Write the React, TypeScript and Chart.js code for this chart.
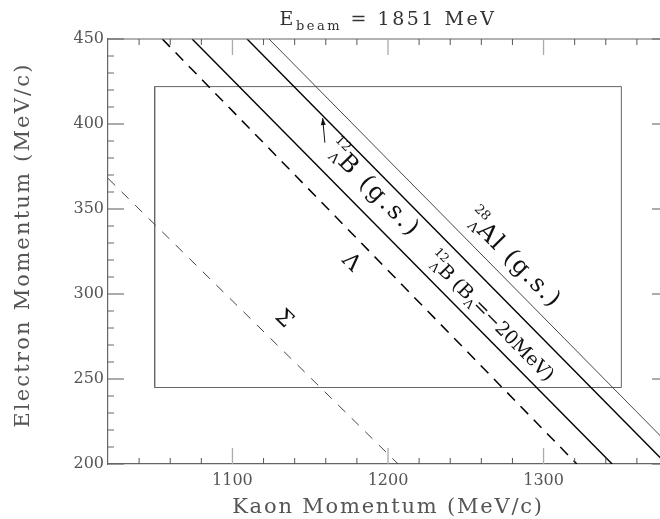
import { useEffect, useRef } from "react";
import { Chart, registerables } from "chart.js";
Chart.register(...registerables);

// ---- axis ranges & ticks ----
const xRange = [1020, 1380];
const yRange = [200, 450];
const xMajorTicks = [1100, 1200, 1300];
const xMinorTicks = [1040, 1060, 1080, 1120, 1140, 1160, 1180, 1220, 1240, 1260, 1280, 1320, 1340, 1360];
const yMajorTicks = [200, 250, 300, 350, 400, 450];
const yMinorTicks = [210, 220, 230, 240, 260, 270, 280, 290, 310, 320, 330, 340, 360, 370, 380, 390, 410, 420, 430, 440];

// ---- kinematic lines (Kaon momentum, Electron momentum) ----
const sigmaX = [1020, 1206.5];
const sigmaY = [368, 200];
const lambdaX = [1054.9, 1321.4];
const lambdaY = [450, 200];
const b12m20X = [1074.1, 1344.1];
const b12m20Y = [450, 200];
const b12gsX = [1109.4, 1379];
const b12gsY = [450, 200];
const al28gsX = [1123.5, 1380];
const al28gsY = [450, 212];

// ---- acceptance box ----
const boxX = [1050, 1350, 1350, 1050, 1050];
const boxY = [245, 245, 422, 422, 245];

// ---- arrow (tail -> head) ----
const arrowX = [1159.4, 1158];
const arrowY = [389, 403.5];

const FONT = "DejaVu Serif";

const pts = (xs: number[], ys: number[]) => xs.map((x, i) => ({ x, y: ys[i] }));

type Part = { t: string; s: number; dy?: number };
type Lbl = {
  x: number; y: number; line: number; pre?: [string, string]; preSize?: number;
  preUp?: number; preDown?: number; parts: Part[]; ls: number; center?: boolean;
};

// annotation anchors (data coordinates); `line` = dataset index giving the angle
const labels: Lbl[] = [
  { x: 1167.2, y: 377.2, line: 3, pre: ["12", "Λ"], preSize: 13, preUp: 14, preDown: 3,
    parts: [{ t: "B", s: 24 }, { t: " (g.s.)", s: 24 }], ls: 2.4 },
  { x: 1256.7, y: 336.6, line: 4, pre: ["28", "Λ"], preSize: 13, preUp: 14, preDown: 3,
    parts: [{ t: "Al (g.s.)", s: 24 }], ls: 1.6 },
  { x: 1231.7, y: 313.1, line: 2, pre: ["12", "Λ"], preSize: 12, preUp: 11, preDown: 3,
    parts: [{ t: "B (B", s: 19 }, { t: "Λ", s: 12, dy: 4 }, { t: "=−20MeV)", s: 19 }], ls: -0.2 },
  { x: 1176.2, y: 318.4, line: 1, parts: [{ t: "Λ", s: 22 }], ls: 0, center: true },
  { x: 1132.8, y: 285.2, line: 0, parts: [{ t: "Σ", s: 22 }], ls: 0, center: true },
];

const decor = {
  id: "decor",
  afterDatasetsDraw(chart: any) {
    const ctx: CanvasRenderingContext2D = chart.ctx;
    const xs = chart.scales.x;
    const ys = chart.scales.y;
    const { left, right, top, bottom } = chart.chartArea;
    ctx.save();
    // frame top + right
    ctx.strokeStyle = "#666";
    ctx.lineWidth = 1.2;
    ctx.beginPath();
    ctx.moveTo(left, top);
    ctx.lineTo(right, top);
    ctx.lineTo(right, bottom);
    ctx.stroke();
    // ticks
    const tick = (x1: number, y1: number, x2: number, y2: number, c: string, w: number) => {
      ctx.strokeStyle = c;
      ctx.lineWidth = w;
      ctx.beginPath();
      ctx.moveTo(x1, y1);
      ctx.lineTo(x2, y2);
      ctx.stroke();
    };
    xMajorTicks.forEach((v) => {
      const p = xs.getPixelForValue(v);
      tick(p, bottom, p, bottom - 16, "#aaa", 1.3);
      tick(p, top, p, top + 16, "#aaa", 1.3);
    });
    xMinorTicks.forEach((v) => {
      const p = xs.getPixelForValue(v);
      tick(p, bottom, p, bottom - 6, "#555", 1);
      tick(p, top, p, top + 6, "#555", 1);
    });
    yMajorTicks.forEach((v) => {
      const p = ys.getPixelForValue(v);
      tick(left, p, left + 16, p, "#666", 1.1);
      tick(right, p, right - 16, p, "#666", 1.1);
    });
    yMinorTicks.forEach((v) => {
      const p = ys.getPixelForValue(v);
      tick(left, p, left + 6, p, "#666", 1);
      tick(right, p, right - 6, p, "#666", 1);
    });

    // arrow
    const ax0 = xs.getPixelForValue(arrowX[0]);
    const ay0 = ys.getPixelForValue(arrowY[0]);
    const ax1 = xs.getPixelForValue(arrowX[1]);
    const ay1 = ys.getPixelForValue(arrowY[1]);
    ctx.strokeStyle = "#111";
    ctx.fillStyle = "#111";
    ctx.lineWidth = 1;
    ctx.beginPath();
    ctx.moveTo(ax0, ay0);
    ctx.lineTo(ax1, ay1);
    ctx.stroke();
    const ang = Math.atan2(ay1 - ay0, ax1 - ax0);
    ctx.beginPath();
    ctx.moveTo(ax1, ay1);
    ctx.lineTo(ax1 - 7 * Math.cos(ang) + 2.5 * Math.sin(ang), ay1 - 7 * Math.sin(ang) - 2.5 * Math.cos(ang));
    ctx.lineTo(ax1 - 7 * Math.cos(ang) - 2.5 * Math.sin(ang), ay1 - 7 * Math.sin(ang) + 2.5 * Math.cos(ang));
    ctx.closePath();
    ctx.fill();

    // rotated labels
    ctx.fillStyle = "#111";
    labels.forEach((l) => {
      const ds = chart.data.datasets[l.line].data;
      const a = Math.atan2(
        ys.getPixelForValue(ds[1].y) - ys.getPixelForValue(ds[0].y),
        xs.getPixelForValue(ds[1].x) - xs.getPixelForValue(ds[0].x)
      );
      ctx.save();
      ctx.translate(xs.getPixelForValue(l.x), ys.getPixelForValue(l.y));
      ctx.rotate(a);
      (ctx as any).letterSpacing = "0px";
      if (l.pre) {
        ctx.font = `${l.preSize}px "${FONT}"`;
        ctx.textAlign = "right";
        ctx.textBaseline = "alphabetic";
        ctx.fillText(l.pre[0], -1, -(l.preUp || 0));
        ctx.fillText(l.pre[1], -1, l.preDown || 0);
      }
      if (l.center) {
        ctx.font = `${l.parts[0].s}px "${FONT}"`;
        ctx.textAlign = "center";
        ctx.textBaseline = "middle";
        ctx.fillText(l.parts[0].t, 0, 0);
      } else {
        ctx.textAlign = "left";
        ctx.textBaseline = "alphabetic";
        (ctx as any).letterSpacing = `${l.ls}px`;
        let cx = 0;
        l.parts.forEach((p) => {
          ctx.font = `${p.s}px "${FONT}"`;
          ctx.fillText(p.t, cx, p.dy || 0);
          cx += ctx.measureText(p.t).width;
        });
      }
      ctx.restore();
    });

    // title  E_beam = 1851 MeV
    (ctx as any).letterSpacing = "2.5px";
    ctx.fillStyle = "#333";
    ctx.textAlign = "left";
    ctx.textBaseline = "alphabetic";
    const tparts: Part[] = [{ t: "E", s: 19 }, { t: "beam", s: 13, dy: 5 }, { t: " = 1851 MeV", s: 19 }];
    let tw = 0;
    tparts.forEach((p) => { ctx.font = `${p.s}px "${FONT}"`; tw += ctx.measureText(p.t).width; });
    let tx = (left + right) / 2 - tw / 2;
    tparts.forEach((p) => {
      ctx.font = `${p.s}px "${FONT}"`;
      ctx.fillText(p.t, tx, 25 + (p.dy || 0));
      tx += ctx.measureText(p.t).width;
    });

    // axis titles
    ctx.fillStyle = "#555";
    ctx.font = `21px "${FONT}"`;
    (ctx as any).letterSpacing = "1.8px";
    ctx.textAlign = "center";
    ctx.fillText("Kaon Momentum (MeV/c)", (left + right) / 2, 513);
    ctx.save();
    ctx.translate(29, 245);
    ctx.rotate(-Math.PI / 2);
    (ctx as any).letterSpacing = "2.2px";
    ctx.fillText("Electron Momentum (MeV/c)", 0, 0);
    ctx.restore();
    (ctx as any).letterSpacing = "0px";
    ctx.restore();
  },
};

export default function App() {
  const ref = useRef<HTMLCanvasElement>(null);
  useEffect(() => {
    const line = (data: any, color: string, width: number, dash: number[] = []) => ({
      data,
      showLine: true,
      borderColor: color,
      borderWidth: width,
      borderDash: dash,
      pointRadius: 0,
      fill: false,
    });
    const chart = new Chart(ref.current!, {
      type: "scatter",
      data: {
        datasets: [
          line(pts(sigmaX, sigmaY), "#444", 1, [10, 9]),
          line(pts(lambdaX, lambdaY), "#000", 1.5, [11, 8]),
          line(pts(b12m20X, b12m20Y), "#000", 1.4),
          line(pts(b12gsX, b12gsY), "#000", 1.4),
          line(pts(al28gsX, al28gsY), "#333", 0.9),
          line(pts(boxX, boxY), "#666", 1),
        ] as any,
      },
      options: {
        responsive: false,
        animation: false,
        devicePixelRatio: 1,
        layout: { padding: { left: 0, top: 39, right: 12, bottom: 0 } },
        plugins: { legend: { display: false }, tooltip: { enabled: false }, title: { display: false } },
        scales: {
          x: {
            type: "linear",
            min: xRange[0],
            max: xRange[1],
            grid: { display: false, drawTicks: false },
            border: { display: true, color: "#666", width: 1.2 },
            ticks: {
              padding: 7,
              color: "#555",
              font: { family: FONT, size: 16 },
              callback: (v: any) => String(v),
            },
            afterBuildTicks: (s: any) => { s.ticks = xMajorTicks.map((v) => ({ value: v })); },
            afterFit: (s: any) => { s.height = 55; },
          },
          y: {
            type: "linear",
            min: yRange[0],
            max: yRange[1],
            grid: { display: false, drawTicks: false },
            border: { display: true, color: "#666", width: 1.2 },
            ticks: {
              padding: 4,
              color: "#555",
              font: { family: FONT, size: 16 },
              callback: (v: any) => String(v),
            },
            afterBuildTicks: (s: any) => { s.ticks = yMajorTicks.map((v) => ({ value: v })); },
            afterFit: (s: any) => { s.width = 108; },
          },
        },
      },
      plugins: [decor],
    });
    return () => chart.destroy();
  }, []);
  return (
    <div style={{ position: "fixed", left: 0, top: 0, width: 660, height: 519, overflow: "hidden", background: "#fff" }}>
      <canvas ref={ref} width={680} height={519} style={{ display: "block", width: 680, height: 519 }} />
    </div>
  );
}
